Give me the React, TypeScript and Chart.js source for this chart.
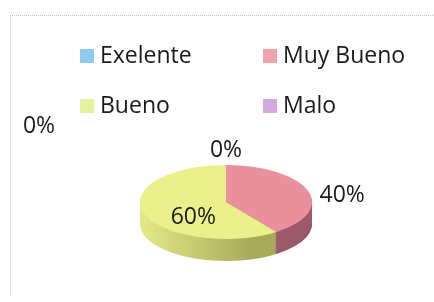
import React, { useEffect, useRef } from "react";
import { Chart, registerables } from "chart.js";

Chart.register(...registerables);

const categories = ["Exelente", "Muy Bueno", "Bueno", "Malo"];
const values = [0, 40, 60, 0];

const topColors = ["#8cc8ec", "#ea909c", "#ebf08c", "#cfa6dc"];
const legendColors = ["#8fcbef", "#f0a4ac", "#e7f29c", "#d2aadf"];
const sideStops: string[][] = [
  ["#6a9cbc", "#4f7a96"],
  ["#b7727e", "#9c5a68"],
  ["#e4ea86", "#a9a95a"],
  ["#a680b4", "#8a6498"],
];

const SQ = 0.43;
const DEPTH = 22;
const FONT = '23px "Open Sans"';

const labelPlace: any[] = [
  { f: 1.4, dy: 0 },
  { f: 1.42, dy: 10 },
  { f: 0.4, dy: 11 },
  { fixed: [39, 126] },
];

export default function App() {
  const ref = useRef<HTMLCanvasElement>(null);
  useEffect(() => {
    document.body.style.margin = "0";
    const canvas = ref.current!;
    const total = values.reduce((a, b) => a + b, 0);

    const pie3d = {
      id: "pie3d",
      beforeDraw(chart: any) {
        const ctx = chart.ctx;
        ctx.save();
        ctx.strokeStyle = "#c4c4c4";
        ctx.lineWidth = 1;
        ctx.setLineDash([1, 1]);
        ctx.beginPath();
        ctx.moveTo(10, 15.5);
        ctx.lineTo(434, 15.5);
        ctx.moveTo(10.5, 15);
        ctx.lineTo(10.5, 296);
        ctx.stroke();
        ctx.restore();
      },
      beforeDatasetsDraw(chart: any) {
        const ctx = chart.ctx;
        const meta = chart.getDatasetMeta(0);
        const a0 = meta.data[0];
        const cx = a0.x, cy = a0.y, r = a0.outerRadius;
        const grads = sideStops.map((s) => {
          const g = ctx.createLinearGradient(cx - r, 0, cx + r, 0);
          g.addColorStop(0, s[0]);
          g.addColorStop(0.65, s[1]);
          g.addColorStop(1, s[1]);
          return g;
        });
        for (let d = DEPTH; d >= 1; d--) {
          ctx.save();
          ctx.translate(cx, cy + d);
          ctx.scale(1, SQ);
          ctx.translate(-cx, -cy);
          meta.data.forEach((arc: any, i: number) => {
            if (!values[i]) return;
            const orig = arc.options.backgroundColor;
            arc.options.backgroundColor = grads[i];
            arc.draw(ctx);
            arc.options.backgroundColor = orig;
          });
          ctx.restore();
        }
        ctx.save();
        ctx.translate(cx, cy);
        ctx.scale(1, SQ);
        ctx.translate(-cx, -cy);
      },
      afterDatasetsDraw(chart: any) {
        chart.ctx.restore();
      },
      afterDraw(chart: any) {
        const ctx = chart.ctx;
        const meta = chart.getDatasetMeta(0);
        ctx.save();
        ctx.font = FONT;
        ctx.fillStyle = "#1a1a1a";
        ctx.textBaseline = "middle";
        const colX = [80, 263];
        const rowY = [56, 106];
        categories.forEach((c, i) => {
          const x = colX[i % 2];
          const y = rowY[Math.floor(i / 2)];
          ctx.fillStyle = legendColors[i];
          ctx.fillRect(x, y - 7, 14, 14);
          ctx.fillStyle = "#1a1a1a";
          ctx.textAlign = "left";
          ctx.fillText(c, x + 20, y);
        });
        ctx.textAlign = "center";
        meta.data.forEach((arc: any, i: number) => {
          const p = labelPlace[i];
          const txt = Math.round((values[i] / total) * 100) + "%";
          let x, y;
          if (p.fixed) {
            x = p.fixed[0];
            y = p.fixed[1];
          } else {
            const a = (arc.startAngle + arc.endAngle) / 2;
            x = arc.x + Math.cos(a) * arc.outerRadius * p.f;
            y = arc.y + Math.sin(a) * arc.outerRadius * p.f * SQ + p.dy;
          }
          ctx.fillText(txt, x, y);
        });
        ctx.restore();
      },
    };

    const chart = new Chart(canvas, {
      type: "pie",
      data: {
        labels: categories,
        datasets: [
          {
            data: values,
            backgroundColor: topColors,
            borderWidth: 0,
            clip: false,
          } as any,
        ],
      },
      options: {
        responsive: false,
        animation: false,
        layout: { padding: { left: 140, right: 122, top: 116, bottom: 14 } },
        plugins: {
          legend: { display: false },
          tooltip: { enabled: false },
        },
      },
      plugins: [pie3d],
    });
    return () => chart.destroy();
  }, []);
  return (
    <div style={{ width: 434, height: 302, background: "#fff" }}>
      <canvas ref={ref} width={434} height={302} />
    </div>
  );
}
